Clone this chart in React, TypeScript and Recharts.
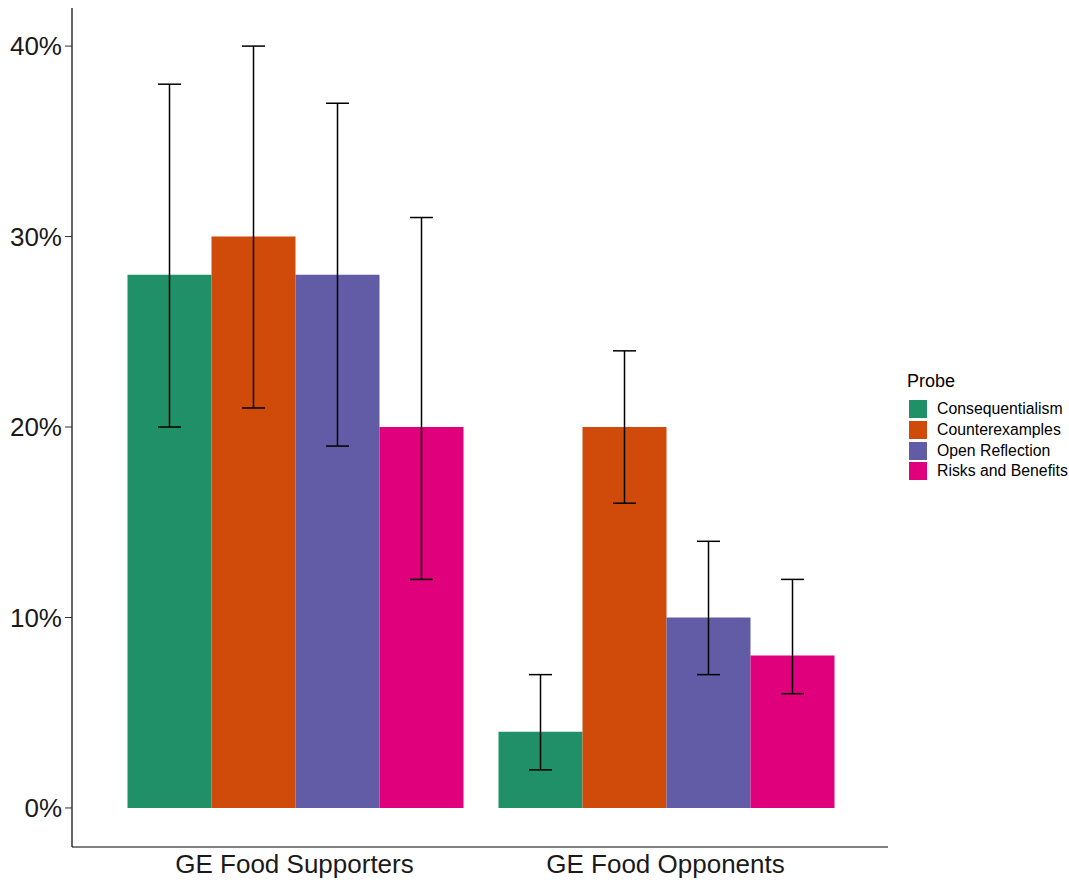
import { BarChart, Bar, XAxis, YAxis, ErrorBar } from "recharts";

// Share of participants who changed their view, by probe and group
const groups = ["GE Food Supporters", "GE Food Opponents"];
const probes = ["Consequentialism", "Counterexamples", "Open Reflection", "Risks and Benefits"];
const probeColors = ["#1F9068", "#D04A0A", "#625CA6", "#E0007B"];

const consequentialism = [28, 4];
const consequentialismLow = [20, 2];
const consequentialismHigh = [38, 7];

const counterexamples = [30, 20];
const counterexamplesLow = [21, 16];
const counterexamplesHigh = [40, 24];

const openReflection = [28, 10];
const openReflectionLow = [19, 7];
const openReflectionHigh = [37, 14];

const risksBenefits = [20, 8];
const risksBenefitsLow = [12, 6];
const risksBenefitsHigh = [31, 12];

const yTicks = [0, 10, 20, 30, 40];

const series = [
  { values: consequentialism, low: consequentialismLow, high: consequentialismHigh },
  { values: counterexamples, low: counterexamplesLow, high: counterexamplesHigh },
  { values: openReflection, low: openReflectionLow, high: openReflectionHigh },
  { values: risksBenefits, low: risksBenefitsLow, high: risksBenefitsHigh },
];

const data = groups.map((group, i) => {
  const row: Record<string, unknown> = { group };
  series.forEach((s, k) => {
    row[`p${k}`] = s.values[i];
    row[`e${k}`] = [s.values[i] - s.low[i], s.high[i] - s.values[i]];
  });
  return row;
});

const FONT = "'Liberation Sans', Arial, Helvetica, sans-serif";

function ProbeLegend() {
  return (
    <div
      style={{
        position: "absolute",
        left: 907,
        top: 370,
        fontFamily: FONT,
        color: "#000",
      }}
    >
      <div style={{ fontSize: 18, lineHeight: "22px", marginBottom: 7 }}>Probe</div>
      {probes.map((p, i) => (
        <div
          key={p}
          style={{ display: "flex", alignItems: "center", height: 20.7 }}
        >
          <span
            style={{
              display: "inline-block",
              width: 18,
              height: 18,
              background: probeColors[i],
              marginLeft: 2,
              marginRight: 10,
            }}
          />
          <span style={{ fontSize: 15.8 }}>{p}</span>
        </div>
      ))}
    </div>
  );
}

export default function App() {
  return (
    <div
      style={{
        position: "absolute",
        left: 0,
        top: 0,
        width: 1069,
        height: 882,
        background: "#fff",
      }}
    >
      <BarChart
        width={1069}
        height={882}
        data={data}
        margin={{ top: 8, right: 181, bottom: 0, left: 0 }}
        barCategoryGap={18.5}
        barGap={0}
      >
        <XAxis
          dataKey="group"
          height={35}
          padding={{ left: 37, right: 37 }}
          tickLine={false}
          axisLine={{ stroke: "#000", strokeWidth: 1.2 }}
          tick={{ fill: "#1a1a1a", fontSize: 26, fontFamily: FONT }}
          tickMargin={2}
        />
        <YAxis
          width={72}
          domain={[-2.05, 42]}
          ticks={yTicks}
          allowDataOverflow
          tickFormatter={(v: number) => `${v}%`}
          axisLine={{ stroke: "#000", strokeWidth: 1.2 }}
          tickLine={{ stroke: "#333" }}
          tickSize={7}
          tickMargin={3}
          tick={{ fill: "#1a1a1a", fontSize: 26, fontFamily: FONT }}
        />
        {series.map((_, k) => (
          <Bar
            key={k}
            dataKey={`p${k}`}
            fill={probeColors[k]}
            isAnimationActive={false}
          >
            <ErrorBar
              dataKey={`e${k}`}
              width={11.5}
              stroke="#000"
              strokeWidth={1.5}
              direction="y"
            />
          </Bar>
        ))}
      </BarChart>
      <ProbeLegend />
    </div>
  );
}
